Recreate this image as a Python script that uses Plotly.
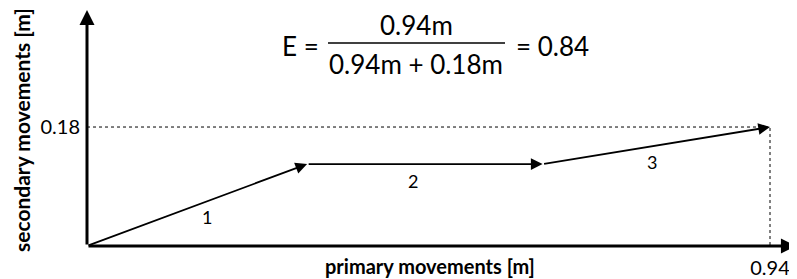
import plotly.graph_objects as go

# Data
seg_x = [0.0, 0.303, 0.627, 0.94]
seg_y = [0.0, 0.124, 0.124, 0.18]
seg_labels = ["1", "2", "3"]
label_x = [0.165, 0.449, 0.778]
label_y = [0.044, 0.098, 0.127]
primary_total = 0.94
secondary_total = 0.18
efficiency = 0.84
x_title = "primary movements [m]"
y_title = "secondary movements [m]"

FONT = "Lato, Carlito, Calibri, sans-serif"
OFF = 8                      # page body margin
W, H = 797 - OFF, 279 - OFF
ML, MB = 87 - OFF, 33
PX0, PY0 = 87, 246           # page pixel of the origin
SX, SY = 726.6, 661.0        # pixels per data unit
XMAX = (797 - PX0) / SX
YMAX = (PY0 - OFF) / SY
PH = PY0 - OFF

fig = go.Figure()

# dotted guide lines to the end point
fig.add_trace(go.Scatter(
    x=[0, primary_total, primary_total],
    y=[secondary_total, secondary_total, 0],
    mode="lines",
    line=dict(color="black", width=1, dash="dot"),
    hoverinfo="skip", showlegend=False,
))

ann = []
# axes with arrow heads
ann.append(dict(x=XMAX - 0.0015, y=0, ax=0, ay=0, xref="x", yref="y", axref="x", ayref="y",
                text="", showarrow=True, arrowhead=2, arrowsize=1.0, arrowwidth=3, arrowcolor="black"))
ann.append(dict(x=0, y=YMAX - 0.003, ax=0, ay=0, xref="x", yref="y", axref="x", ayref="y",
                text="", showarrow=True, arrowhead=2, arrowsize=1.0, arrowwidth=3, arrowcolor="black"))

# movement segments
for i in range(len(seg_x) - 1):
    ann.append(dict(x=seg_x[i + 1], y=seg_y[i + 1], ax=seg_x[i], ay=seg_y[i],
                    xref="x", yref="y", axref="x", ayref="y",
                    text="", showarrow=True, arrowhead=2, arrowsize=1.3,
                    arrowwidth=1.8, arrowcolor="black", standoff=0, startstandoff=0))
    ann.append(dict(x=label_x[i], y=label_y[i], xref="x", yref="y", text=seg_labels[i],
                    showarrow=False, font=dict(family=FONT, size=18, color="black")))

# equation
eq_font = dict(family=FONT, size=26, color="black")
ann.append(dict(x=0.2935, y=0.3026, xref="x", yref="y", text="E =", showarrow=False, font=eq_font))
ann.append(dict(x=0.4528, y=0.334, xref="x", yref="y", text=f"{primary_total:.2f}m",
                showarrow=False, font=eq_font))
ann.append(dict(x=0.4528, y=0.2753, xref="x", yref="y",
                text=f"{primary_total:.2f}m + {secondary_total:.2f}m", showarrow=False, font=eq_font))
ann.append(dict(x=0.641, y=0.3026, xref="x", yref="y", text=f"= {efficiency:.2f}",
                showarrow=False, font=eq_font))

# axis titles
ann.append(dict(x=(430 - PX0) / (797 - PX0), y=(PY0 - 279) / PH, xref="paper", yref="paper",
                text=f"<b>{x_title}</b>", showarrow=False, yanchor="bottom", borderpad=0,
                font=dict(family=FONT, size=20, color="black")))
ann.append(dict(x=(22 - PX0) / (797 - PX0), y=(PY0 - 130) / PH, xref="paper", yref="paper",
                text=f"<b>{y_title}</b>", showarrow=False, textangle=-90, xanchor="center",
                font=dict(family=FONT, size=21, color="black")))

fig.update_layout(
    width=W, height=H,
    margin=dict(l=ML, r=0, t=0, b=MB),
    paper_bgcolor="white", plot_bgcolor="white",
    annotations=ann,
    shapes=[dict(type="line", xref="x", yref="y", x0=0.3317, x1=0.5753, y0=0.3071, y1=0.3071,
                 line=dict(color="black", width=1.5))],
    xaxis=dict(range=[0, XMAX], showgrid=False, zeroline=False, showline=False,
               tickvals=[primary_total], ticktext=[f"{primary_total:.2f}"], ticks="",
               ticklabelstandoff=8, tickfont=dict(family=FONT, size=20, color="black")),
    yaxis=dict(range=[0, YMAX], showgrid=False, zeroline=False, showline=False,
               tickvals=[secondary_total], ticktext=[f"{secondary_total:.2f}"], ticks="",
               ticklabelstandoff=6, tickfont=dict(family=FONT, size=20, color="black")),
)

fig.write_html("out.html")
